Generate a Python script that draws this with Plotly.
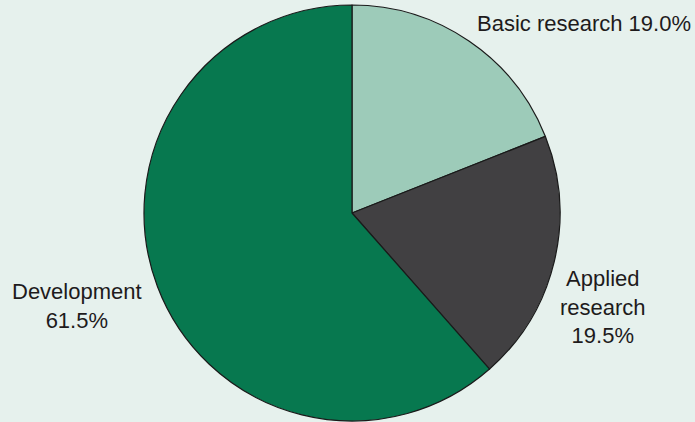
import plotly.graph_objects as go

categories = ["Basic research", "Applied research", "Development"]
values = [19.0, 19.5, 61.5]
colors = ["#9dcbb9", "#414042", "#07784f"]
label_texts = ["Basic research 19.0%", "Applied<br>research<br>19.5%", "Development<br>61.5%"]

W, H = 695, 422
fig = go.Figure(go.Pie(
    labels=categories, values=values, sort=False, direction="clockwise", rotation=0,
    marker=dict(colors=colors, line=dict(color="#1a1a1a", width=1.2)),
    textinfo="none", hoverinfo="label+percent", showlegend=False,
    domain=dict(x=[(352 - 208) / W, (352 + 208) / W], y=[0, 1]),
))

label_pos = [(584, 24), (603, 307), (77, 306)]
for txt, (x, y) in zip(label_texts, label_pos):
    fig.add_annotation(x=x / W, y=1 - (y - 5) / 416, xref="paper", yref="paper",
                       text=txt, showarrow=False, xanchor="center", yanchor="middle",
                       font=dict(family="Liberation Sans, Arial, sans-serif", size=22, color="#1e1b1c"))

fig.update_layout(width=W, height=H, margin=dict(l=0, r=0, t=5, b=1),
                  paper_bgcolor="#e6f1ed", plot_bgcolor="#e6f1ed")
fig.write_html("out.html", config={"displayModeBar": False},
               post_script="document.body.style.margin='0';")
